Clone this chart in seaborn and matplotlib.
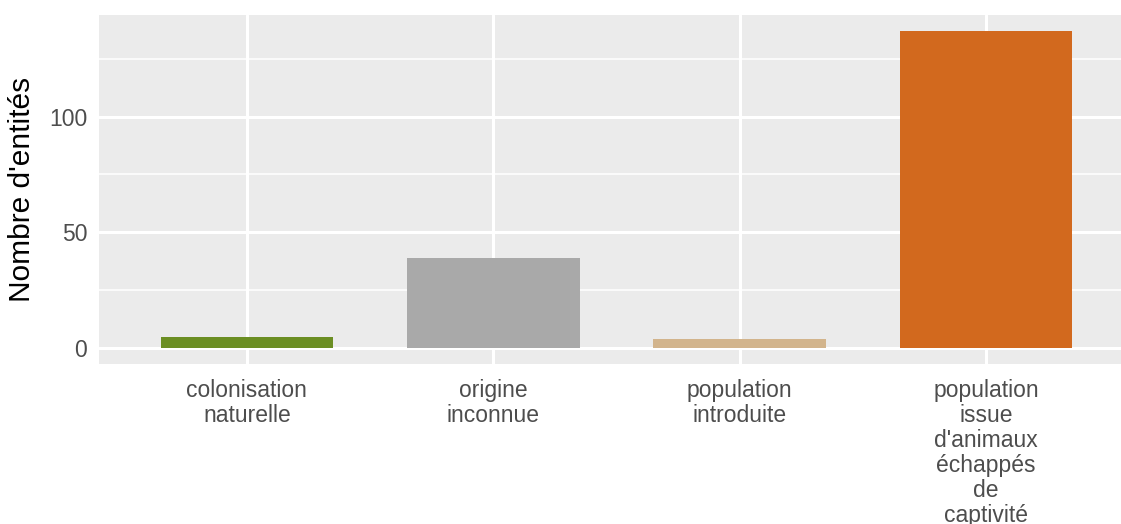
import pandas as pd
import seaborn as sns
import matplotlib.pyplot as plt

categories = ["colonisation\nnaturelle", "origine\ninconnue", "population\nintroduite",
              "population\nissue\nd'animaux\néchappés\nde\ncaptivité"]
counts = [5, 39, 4, 137]
colors = ["olivedrab", "darkgray", "tan", "chocolate"]

df = pd.DataFrame({"origine": categories, "n": counts})

sns.set_style("darkgrid", {"axes.facecolor": "#EBEBEB", "grid.color": "white"})
plt.rcParams['font.family'] = ['Liberation Sans', 'DejaVu Sans']

fig = plt.figure(figsize=(11.21, 5.24), dpi=100)
ax = fig.add_axes([99 / 1121, 1 - 364 / 524, 1035 / 1121, 349 / 524])

sns.barplot(data=df, x="origine", y="n", hue="origine", palette=colors,
            width=0.7, legend=False, ax=ax, saturation=1, linewidth=0, zorder=3)

ymax = max(counts)
ax.set_ylim(-0.05 * ymax, ymax * 1.05)
ax.set_xlim(-0.6, len(categories) - 0.4)
ax.set_yticks([0, 50, 100])
ax.set_yticks([25, 75, 125], minor=True)
ax.grid(True, which="major", color="white", linewidth=2.2, zorder=0)
ax.grid(True, which="minor", axis="y", color="white", linewidth=1.1, zorder=0)
ax.set_axisbelow(True)
for s in ax.spines.values():
    s.set_visible(False)

ax.tick_params(axis="both", which="major", length=4.5, width=1.3, color="#333333",
               labelsize=16.5, labelcolor="#4D4D4D", pad=4)
ax.tick_params(axis="x", which="major", pad=6)
ax.tick_params(axis="both", which="minor", length=0)
ax.set_xlabel("")
ax.set_ylabel("Nombre d'entités", fontsize=21.5, color="black", labelpad=9)
for lbl in ax.get_xticklabels():
    lbl.set_linespacing(1.12)

fig.savefig("out.png", dpi=100)
